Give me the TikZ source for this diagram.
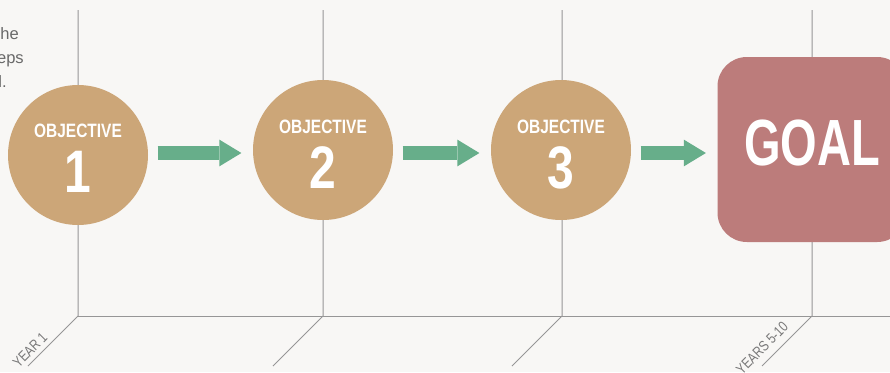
\documentclass[tikz,border=0pt]{standalone}
\usepackage{fontspec}
\setmainfont{Liberation Sans}
\newfontfamily\condfont[FakeStretch=0.8]{Liberation Sans}
\newfontfamily\goalfont[FakeStretch=0.72]{Liberation Sans}
\usetikzlibrary{arrows.meta}

\definecolor{bgpaper}{RGB}{248,247,245}
\definecolor{objtan}{RGB}{204,166,120}
\definecolor{goalrose}{RGB}{188,124,123}
\definecolor{flowgreen}{RGB}{103,174,138}
\definecolor{timegray}{RGB}{150,150,150}
\definecolor{notegray}{RGB}{105,105,105}

\begin{document}
\begin{tikzpicture}[x=0.75pt, y=-0.75pt,
    objective/.style={circle, fill=objtan, minimum size=105pt, inner sep=0pt},
    goalbox/.style={rectangle, rounded corners=22pt, fill=goalrose, minimum width=141.75pt, minimum height=138.75pt},
    objword/.style={anchor=base, inner sep=0pt, text=white, font=\condfont\bfseries\fontsize{14.5}{14.5}\selectfont},
    objnum/.style={anchor=base, inner sep=0pt, text=white, font=\condfont\bfseries\fontsize{45}{45}\selectfont},
    goalword/.style={anchor=base, inner sep=0pt, text=white, font=\goalfont\bfseries\fontsize{49}{49}\selectfont},
    flow/.style={draw=flowgreen, line width=10.5pt, -{Triangle[length=16.5pt, width=20pt, line width=0pt]}, shorten <=7pt, shorten >=8.5pt},
    timeline/.style={draw=timegray, line width=0.75pt},
    note/.style={anchor=base east, inner sep=0pt, text=notegray, font=\fontsize{12.4}{14}\selectfont},
    yearlbl/.style={rotate=45, inner sep=0pt, text=timegray!80!black, font=\condfont\fontsize{11}{12}\selectfont}]

    % paper
    \path[use as bounding box, fill=bgpaper] (0,0) rectangle (890,372);
    \clip (0,0) rectangle (890,372);

    % time axis
    \foreach \x in {78,323,562,812} {
        \draw[timeline] (\x,10) -- (\x,316) -- (\x-50,366);
    }
    \draw[timeline] (78,316) -- (890,316);

    \coordinate (row) at (0,153);

    % steps
    \node[objective] (obj1) at (78,155) {};
    \node[objective] (obj2) at (323,150) {};
    \node[objective] (obj3) at (561,150) {};
    \node[goalbox]   (goal) at (812,149.5) {};

    \path (obj1.center) ++(0,-18) node[objword] (obj1word) {OBJECTIVE} ++(0,55) node[objnum] (obj1num) {1};
    \path (obj2.center) ++(0,-17) node[objword] (obj2word) {OBJECTIVE} ++(0,55) node[objnum] (obj2num) {2};
    \path (obj3.center) ++(0,-17) node[objword] (obj3word) {OBJECTIVE} ++(0,55) node[objnum] (obj3num) {3};
    \path (goal.center) ++(0,15.5) node[goalword] (goalword) {GOAL};

    \draw[flow] (obj1.east |- row) -- (obj2.west |- row);
    \draw[flow] (obj2.east |- row) -- (obj3.west |- row);
    \draw[flow] (obj3.east |- row) -- (goal.west |- row);

    % cut-off note and year labels
    \node[note] (notea) at (19,39) {he};
    \node[note] (noteb) at (24,63) {eps};
    \node[note] (notec) at (7,87) {l.};
    \node[yearlbl] (yearfirst) at (30,350) {YEAR 1};
    \node[yearlbl] (yearlast) at (762,348) {YEARS 5-10};
\end{tikzpicture}
\end{document}
